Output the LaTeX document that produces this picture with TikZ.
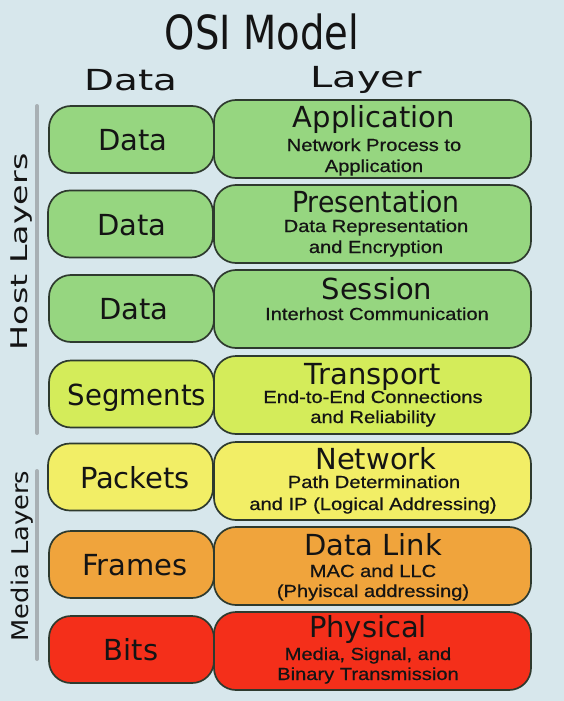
\documentclass[tikz,border=0pt]{standalone}
\usepackage{fontspec}
\usepackage{graphicx}
\setmainfont{DejaVu Sans}
\newfontfamily\subfont[FakeStretch=1.15,FakeBold=0.6]{Liberation Sans}
\definecolor{bgcol}{HTML}{D7E7EC}
\definecolor{gfill}{HTML}{96D680}
\definecolor{ygfill}{HTML}{D4EC5A}
\definecolor{yfill}{HTML}{F2EE66}
\definecolor{ofill}{HTML}{F0A43C}
\definecolor{rfill}{HTML}{F42F1A}
\definecolor{edgecol}{HTML}{2E3A2E}
\definecolor{txt}{HTML}{141414}
\definecolor{barcol}{HTML}{A8B0B4}
\tikzset{
  leftbox/.style={draw=edgecol, line width=1.7pt, rounded corners=22pt, minimum width=165pt, minimum height=67pt, inner sep=0pt},
  rightbox/.style={draw=edgecol, line width=1.7pt, rounded corners=22pt, minimum width=317pt, minimum height=78pt, inner sep=0pt},
  lbl/.style={anchor=base, inner sep=0pt, text=txt, font=\fontsize{29}{34}\selectfont},
  ttl/.style={anchor=base, inner sep=0pt, text=txt, font=\fontsize{29}{34}\selectfont},
  sub/.style={anchor=base, inner sep=0pt, text=txt, font=\subfont\fontsize{17.5}{21}\selectfont},
  side/.style={rotate=90, inner sep=0pt, text=txt, font=\fontsize{23}{27}\selectfont},
  bar/.style={draw=barcol, line width=4pt, line cap=round}
}
\begin{document}
\begin{tikzpicture}[x=1pt,y=-1pt]
\fill[bgcol] (0,0) rectangle (564,701);
\useasboundingbox (0,0) rectangle (564,701);

% titles
\node[anchor=base, inner sep=0pt, text=txt, font=\fontsize{47}{52}\selectfont] (title) at (262,50) {\scalebox{0.82}[1]{OSI Model}};
\node[anchor=base, inner sep=0pt, text=txt, font=\fontsize{29}{34}\selectfont] (hdata) at (131,90) {\scalebox{1.34}[1]{Data}};
\node[anchor=base, inner sep=0pt, text=txt, font=\fontsize{29}{34}\selectfont] (hlayer) at (366,87) {\scalebox{1.38}[1]{Layer}};

% side bars
\coordinate (h1) at (37,106);
\coordinate (h2) at (37,433);
\coordinate (m1) at (37,471);
\coordinate (m2) at (37,659);
\draw[bar] (h1) -- (h2);
\draw[bar] (m1) -- (m2);
\node[side] (host) at (22,252) {\scalebox{1.45}[1]{Host Layers}};
\node[side] (media) at (22,556) {\scalebox{1.12}[1]{Media Layers}};

% left boxes
\node[leftbox, fill=gfill]  (l1) at (131.5,139.5) {};
\node[leftbox, fill=gfill]  (l2) at (130.5,224) {};
\node[leftbox, fill=gfill]  (l3) at (131.5,308.5) {};
\node[leftbox, fill=ygfill] (l4) at (131.5,394) {};
\node[leftbox, fill=yfill]  (l5) at (130.5,477) {};
\node[leftbox, fill=ofill]  (l6) at (131.5,564.5) {};
\node[leftbox, fill=rfill]  (l7) at (131.5,649.5) {};

\node[lbl] (t1) at (133,150) {Data};
\node[lbl] (t2) at (132,235) {Data};
\node[lbl] (t3) at (134,319.5) {Data};
\node[lbl] (t4) at (137,405) {\scalebox{0.95}[1]{Segments}};
\node[lbl] (t5) at (135,488) {Packets};
\node[lbl] (t6) at (135,575.5) {Frames};
\node[lbl] (t7) at (131,660.5) {Bits};

% right boxes
\node[rightbox, fill=gfill]  (r1) at (372.5,139) {};
\node[rightbox, fill=gfill]  (r2) at (372.5,224) {};
\node[rightbox, fill=gfill]  (r3) at (372.5,309) {};
\node[rightbox, fill=ygfill] (r4) at (372.5,395) {};
\node[rightbox, fill=yfill]  (r5) at (372.5,481) {};
\node[rightbox, fill=ofill]  (r6) at (372.5,566) {};
\node[rightbox, fill=rfill]  (r7) at (372.5,651) {};

\node[ttl] (a1) at (374,127) {Application};
\node[sub] (a2) at (374,151) {Network Process to};
\node[sub] (a3) at (374,172) {Application};

\node[ttl] (p1) at (376,212) {\scalebox{0.92}[1]{Presentation}};
\node[sub] (p2) at (376,232) {Data Representation};
\node[sub] (p3) at (376,253) {and Encryption};

\node[ttl] (s1) at (377,299) {Session};
\node[sub] (s2) at (377,320) {Interhost Communication};

\node[ttl] (tr1) at (373,384) {Transport};
\node[sub] (tr2) at (373,403) {End-to-End Connections};
\node[sub] (tr3) at (373,423) {and Reliability};

\node[ttl] (n1) at (376,469) {Network};
\node[sub] (n2) at (374,488) {Path Determination};
\node[sub] (n3) at (373,510) {and IP (Logical Addressing)};

\node[ttl] (d1) at (373,555) {Data Link};
\node[sub] (d2) at (373,577) {MAC and LLC};
\node[sub] (d3) at (373,597) {(Phyiscal addressing)};

\node[ttl] (y1) at (368,637) {Physical};
\node[sub] (y2) at (368,660) {Media, Signal, and};
\node[sub] (y3) at (368,680) {Binary Transmission};
\end{tikzpicture}
\end{document}
